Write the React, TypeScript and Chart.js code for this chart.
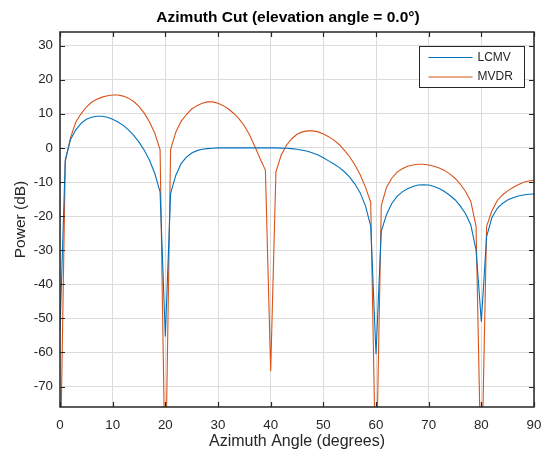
import React, { useEffect, useRef } from 'react';
import { Chart, registerables } from 'chart.js';

Chart.register(...registerables);

const TITLE = 'Azimuth Cut (elevation angle = 0.0°)';
const X_LABEL = 'Azimuth Angle (degrees)';
const Y_LABEL = 'Power (dB)';

const AZIMUTH = [
  0, 1, 2, 3, 4, 5, 6, 7, 8, 9, 10, 11, 12, 13, 14, 15, 16, 17, 18, 19,
  20, 21, 22, 23, 24, 25, 26, 27, 28, 29, 30, 31, 32, 33, 34, 35, 36, 37, 38, 39,
  40, 41, 42, 43, 44, 45, 46, 47, 48, 49, 50, 51, 52, 53, 54, 55, 56, 57, 58, 59,
  60, 61, 62, 63, 64, 65, 66, 67, 68, 69, 70, 71, 72, 73, 74, 75, 76, 77, 78, 79,
  80, 81, 82, 83, 84, 85, 86, 87, 88, 89, 90,
];

const LCMV = [
  -53.5, -3.5, 2.5, 5.3, 7.2, 8.4, 9.0, 9.3, 9.3, 9.0,
  8.4, 7.6, 6.6, 5.3, 3.7, 1.7, -0.7, -3.6, -7.5, -12.9,
  -55.3, -13.3, -8, -4.6, -2.7, -1.5, -0.8, -0.4, -0.2, -0.1,
  0, 0, 0, 0, 0, 0, 0, 0, 0, 0,
  0, 0, -0.05, -0.1, -0.2, -0.4, -0.7, -1.0, -1.5, -2.1,
  -2.9, -3.8, -4.7, -5.7, -7.0, -8.6, -10.6, -13.2, -17, -23,
  -60.5, -24.5, -19.5, -16.3, -14.2, -12.9, -12, -11.3, -10.9, -10.8,
  -10.9, -11.3, -11.9, -12.8, -13.9, -15.2, -17, -19.3, -22.6, -30,
  -51, -26, -20.5, -17.8, -16.3, -15.3, -14.6, -14.1, -13.8, -13.6,
  -13.5,
];

const MVDR = [
  -100, -4, 3, 7.6, 10, 12, 13.4, 14.3, 14.9, 15.3,
  15.5, 15.5, 15.2, 14.6, 13.6, 12.2, 10.2, 7.6, 4.3, -0.5,
  -100, -0.5, 4.7, 7.8, 9.8, 11.4, 12.4, 13.1, 13.5, 13.5,
  13.1, 12.4, 11.4, 10.1, 8.5, 6.5, 3.8, 0.4, -3.2, -6.5,
  -65.5, -7, -2.1, 0.8, 2.7, 4.0, 4.7, 5.0, 5.0, 4.7,
  4.1, 3.3, 2.3, 1.0, -0.7, -2.6, -5.0, -7.9, -11.5, -16,
  -100, -17, -11.5, -8.9, -7.1, -6.1, -5.4, -5.0, -4.8, -4.8,
  -5.0, -5.4, -5.9, -6.6, -7.6, -8.9, -10.6, -12.8, -15.7, -23,
  -100, -23, -18.5, -15.5, -13.8, -12.6, -11.6, -10.8, -10.1, -9.7,
  -9.5,
];

const SERIES_NAMES = ['LCMV', 'MVDR'];
const SERIES_COLORS = ['#0072BD', '#D95319'];

const X_TICKS = [0, 10, 20, 30, 40, 50, 60, 70, 80, 90];
const Y_TICKS = [-70, -60, -50, -40, -30, -20, -10, 0, 10, 20, 30];
const X_MIN = 0;
const X_MAX = 90;
const Y_MIN = -76;
const Y_MAX = 34;

const FONT = '"Liberation Sans", Arial, Helvetica, sans-serif';
const AXIS_COLOR = '#262626';

const decorPlugin = {
  id: 'matlabDecor',
  afterDraw(chart: any) {
    const { ctx, chartArea, scales } = chart;
    const { left, right, top, bottom } = chartArea;
    const xs = scales.x;
    const ys = scales.y;
    ctx.save();

    // box
    ctx.strokeStyle = AXIS_COLOR;
    ctx.lineWidth = 1.5;
    ctx.strokeRect(left, top, right - left, bottom - top);

    // inward ticks
    const tl = 5;
    ctx.beginPath();
    X_TICKS.forEach((v) => {
      const px = Math.round(xs.getPixelForValue(v)) + 0.5;
      ctx.moveTo(px, bottom);
      ctx.lineTo(px, bottom - tl);
      ctx.moveTo(px, top);
      ctx.lineTo(px, top + tl);
    });
    Y_TICKS.forEach((v) => {
      const py = Math.round(ys.getPixelForValue(v)) + 0.5;
      ctx.moveTo(left, py);
      ctx.lineTo(left + tl, py);
      ctx.moveTo(right, py);
      ctx.lineTo(right - tl, py);
    });
    ctx.lineWidth = 1.2;
    ctx.stroke();

    // title
    ctx.fillStyle = '#000000';
    ctx.font = `bold 15.5px ${FONT}`;
    ctx.textAlign = 'center';
    ctx.textBaseline = 'middle';
    ctx.fillText(TITLE, (left + right) / 2 - 9, 18);

    // axis labels
    ctx.fillStyle = AXIS_COLOR;
    ctx.font = `16px ${FONT}`;
    ctx.fillText(X_LABEL, (left + right) / 2, 442);
    ctx.font = `15.5px ${FONT}`;
    ctx.save();
    ctx.translate(21, (top + bottom) / 2);
    ctx.rotate(-Math.PI / 2);
    ctx.fillText(Y_LABEL, 0, 0);
    ctx.restore();

    // legend
    const bx = 419.5;
    const by = 46.5;
    const bw = 105;
    const bh = 41;
    ctx.fillStyle = '#ffffff';
    ctx.fillRect(bx, by, bw, bh);
    ctx.strokeStyle = AXIS_COLOR;
    ctx.lineWidth = 1;
    ctx.strokeRect(bx, by, bw, bh);
    ctx.font = `12px ${FONT}`;
    ctx.textAlign = 'left';
    ctx.textBaseline = 'middle';
    chart.data.datasets.forEach((ds: any, i: number) => {
      const ly = by + 11 + i * 19.5;
      ctx.strokeStyle = ds.borderColor;
      ctx.lineWidth = 1;
      ctx.beginPath();
      ctx.moveTo(bx + 9, ly);
      ctx.lineTo(bx + 53, ly);
      ctx.stroke();
      ctx.fillStyle = AXIS_COLOR;
      ctx.fillText(ds.label, bx + 58, ly);
    });

    ctx.restore();
  },
};

export default function App() {
  const canvasRef = useRef<HTMLCanvasElement | null>(null);

  useEffect(() => {
    const canvas = canvasRef.current;
    if (!canvas) return;
    const datasets = [LCMV, MVDR].map((vals, i) => ({
      label: SERIES_NAMES[i],
      data: AZIMUTH.map((a, j) => ({ x: a, y: vals[j] })),
      borderColor: SERIES_COLORS[i],
      backgroundColor: SERIES_COLORS[i],
      borderWidth: 1.1,
      pointRadius: 0,
      tension: 0,
      fill: false,
    }));
    const chart = new Chart(canvas, {
      type: 'line',
      data: { datasets },
      options: {
        animation: false,
        responsive: false,
        maintainAspectRatio: false,
        devicePixelRatio: 1,
        layout: { padding: { top: 32, right: 8, left: 0, bottom: 0 } },
        plugins: {
          legend: { display: false },
          title: { display: false },
          tooltip: { enabled: false },
        },
        scales: {
          x: {
            type: 'linear',
            min: X_MIN,
            max: X_MAX,
            afterBuildTicks: (s: any) => {
              s.ticks = X_TICKS.map((v) => ({ value: v }));
            },
            afterFit: (s: any) => {
              s.height = 50;
              s.paddingLeft = 0;
              s.paddingRight = 0;
            },
            grid: { color: '#dcdcdc', lineWidth: 1, drawTicks: false },
            border: { display: false },
            ticks: {
              color: AXIS_COLOR,
              font: { family: FONT, size: 13.3 },
              padding: 10,
              maxRotation: 0,
              autoSkip: false,
            },
          },
          y: {
            type: 'linear',
            min: Y_MIN,
            max: Y_MAX,
            afterBuildTicks: (s: any) => {
              s.ticks = Y_TICKS.map((v) => ({ value: v }));
            },
            afterFit: (s: any) => {
              s.width = 60;
              s.paddingTop = 0;
              s.paddingBottom = 0;
            },
            grid: { color: '#dcdcdc', lineWidth: 1, drawTicks: false },
            border: { display: false },
            ticks: {
              color: AXIS_COLOR,
              font: { family: FONT, size: 13.3 },
              padding: 7,
              autoSkip: false,
            },
          },
        },
      },
      plugins: [decorPlugin],
    });
    return () => chart.destroy();
  }, []);

  return (
    <div style={{ position: 'fixed', left: 0, top: 0, width: 542, height: 457, background: '#ffffff' }}>
      <canvas ref={canvasRef} width={542} height={457} style={{ display: 'block' }} />
    </div>
  );
}
